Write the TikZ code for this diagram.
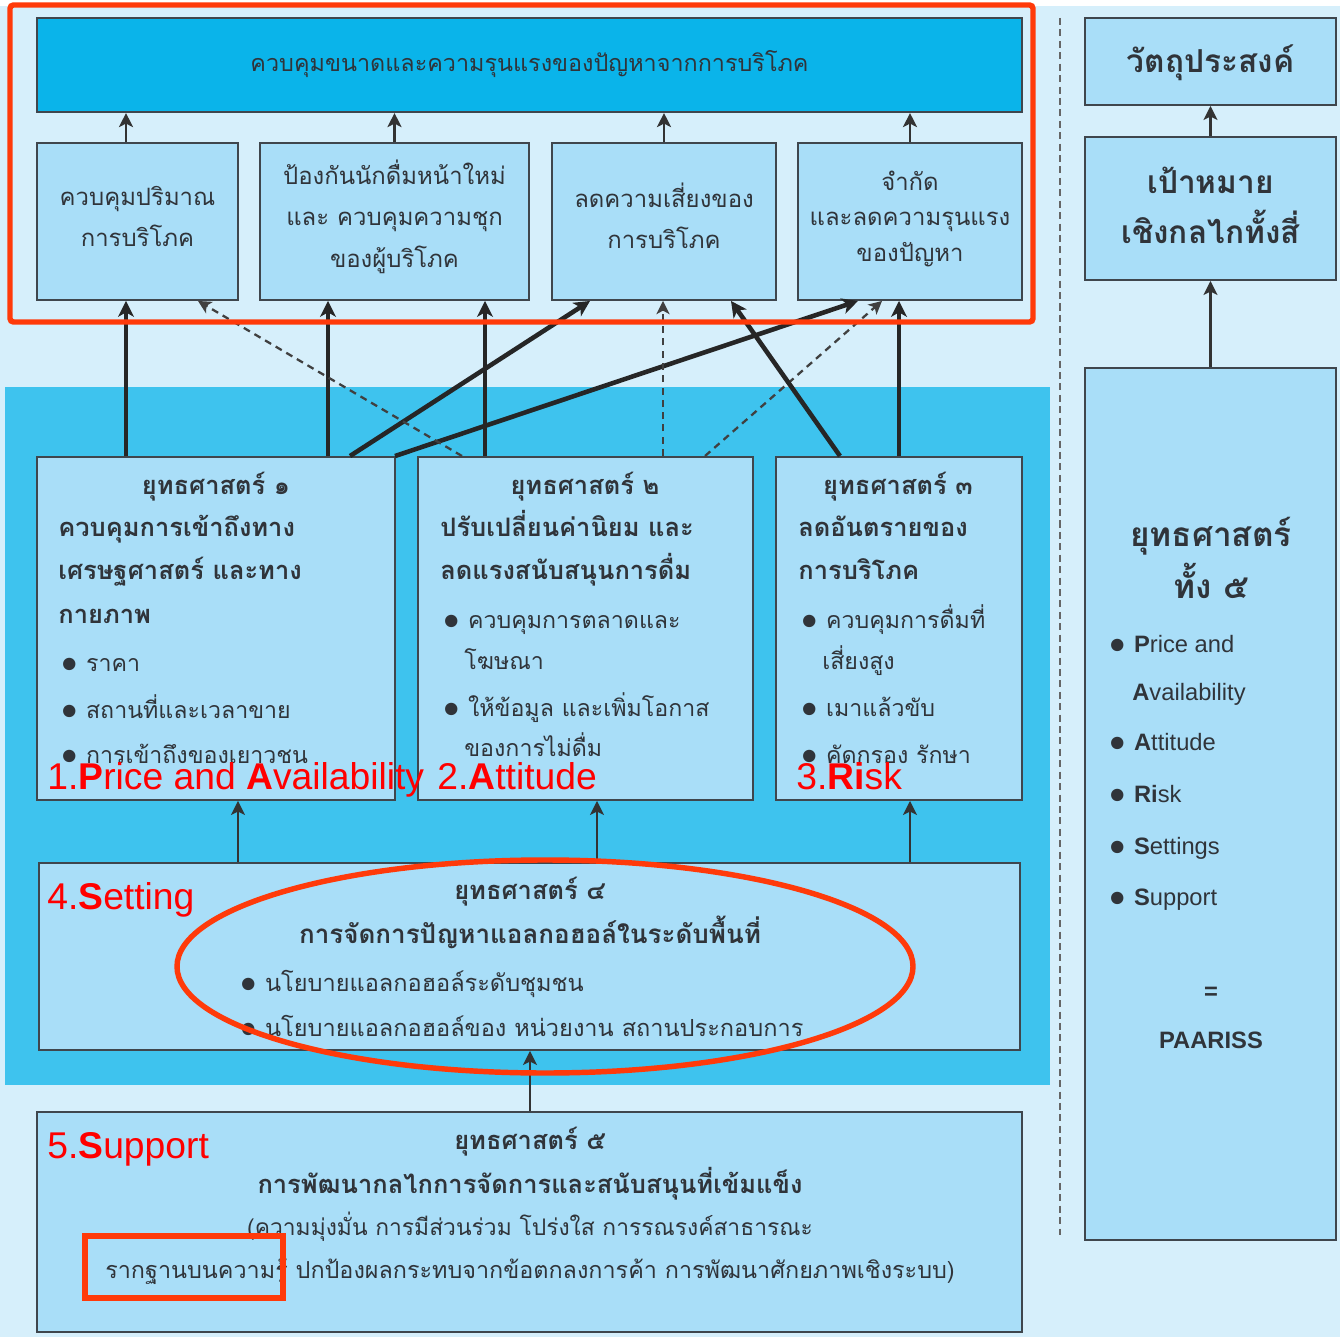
\documentclass[tikz,border=0pt]{standalone}
\usepackage{fontspec}
\setmainfont{Liberation Sans}
\newfontfamily\thai[Script=Thai]{Loma}
\newfontfamily\dejavu{DejaVu Sans}
\usetikzlibrary{arrows.meta,positioning,fit,calc,backgrounds}

\definecolor{pagebg}{HTML}{D6EFFB}
\definecolor{midbg}{HTML}{3EC3EE}
\definecolor{bannerfill}{HTML}{0AB4EA}
\definecolor{boxfill}{HTML}{A9DEF8}
\definecolor{boxline}{HTML}{3F464D}
\definecolor{inktext}{HTML}{30343A}
\definecolor{markred}{HTML}{FF3A0A}

\newcommand{\blt}{\raisebox{-3.5pt}{\dejavu\bfseries\fontsize{20}{20}\selectfont •}\hspace{3pt}}

\begin{document}
\begin{tikzpicture}[x=0.02cm, y=-0.02cm,
    banner/.style={draw=boxline, line width=1.2pt, fill=bannerfill, inner sep=0pt},
    goalbox/.style={draw=boxline, line width=1.1pt, fill=boxfill, inner sep=0pt},
    stratbox/.style={draw=boxline, line width=1.1pt, fill=boxfill, inner sep=0pt},
    bannertext/.style={inner sep=0pt, text=inktext, font=\thai\fontsize{13.3}{18}\selectfont},
    goaltext/.style={align=center, inner sep=0pt, text=inktext, font=\thai\fontsize{13.6}{23.5}\selectfont},
    sidetext/.style={align=center, inner sep=0pt, text=inktext, font=\thai\bfseries\fontsize{18}{28.5}\selectfont},
    stitle/.style={inner sep=0pt, text height=11pt, text depth=4pt, text=inktext, font=\thai\bfseries\fontsize{14.5}{16}\selectfont},
    shead/.style={stitle, anchor=west},
    sitem/.style={inner sep=0pt, text height=11pt, text depth=4pt, anchor=west, text=inktext, font=\thai\fontsize{13.2}{16}\selectfont},
    note/.style={inner sep=0pt, text height=10pt, text depth=4pt, text=inktext, font=\thai\fontsize{13.3}{15}\selectfont},
    eng/.style={inner sep=0pt, anchor=west, text=inktext, font=\fontsize{13.5}{15}\selectfont},
    edge/.style={-{Stealth[length=9pt,width=9pt,inset=2.5pt]}, line width=2.6pt, draw=black!85},
    hint/.style={-{Stealth[length=7.5pt,width=7.5pt,inset=2pt]}, line width=1.3pt, dash pattern=on 4pt off 3pt, draw=black!75},
    feed/.style={-{Stealth[length=8pt,width=8pt,inset=2pt]}, line width=1.2pt, draw=black!80},
    redmark/.style={draw=markred, line width=3.1pt},
    redlabel/.style={inner sep=0pt, anchor=base west, text=red, font=\fontsize{21.2}{24}\selectfont},
    sepline/.style={draw=black!60, line width=1.2pt, dash pattern=on 4pt off 2.5pt},
]
\useasboundingbox (0,0) rectangle (1342,1337);

% Backgrounds
\fill[white] (0,0) rectangle (1342,1337);
\fill[pagebg] (0,6) rectangle (1340,1337);
\fill[midbg] (5,387) rectangle (1050,1085);
\draw[sepline] (1060,18) -- (1060,1235);

% Aim and the four goals
\node[banner, fit={(37,18) (1022,112)}] (aim) {};
\node[goalbox, fit={(37,143) (238,300)}] (amount) {};
\node[goalbox, fit={(260,143) (529,300)}] (newdrinkers) {};
\node[goalbox, fit={(552,143) (776,300)}] (riskuse) {};
\node[goalbox, fit={(798,143) (1022,300)}] (severity) {};
\node[bannertext] (t-aim) at ([yshift=0.5pt]aim.center) {ควบคุมขนาดและความรุนแรงของปัญหาจากการบริโภค};
\node[goaltext] (t-amount) at ([yshift=2.8pt]amount.center) {ควบคุมปริมาณ\\การบริโภค};
\node[goaltext] (t-newdrinkers) at ([yshift=2.8pt]newdrinkers.center) {ป้องกันนักดื่มหน้าใหม่\\และ ควบคุมความชุก\\ของผู้บริโภค};
\node[goaltext] (t-riskuse) at ([yshift=3.3pt]riskuse.center) {ลดความเสี่ยงของ\\การบริโภค};
\node[goaltext, font=\thai\fontsize{13.6}{20}\selectfont] (t-severity) at ([yshift=1.5pt]severity.center) {จำกัด\\และลดความรุนแรง\\ของปัญหา};

% Strategy boxes
\node[stratbox, fit={(37,457) (395,800)}] (strat1) {};
\node[stratbox, fit={(418,457) (753,800)}] (strat2) {};
\node[stratbox, fit={(776,457) (1022,800)}] (strat3) {};
\node[stratbox, fit={(39,863) (1020,1050)}] (strat4) {};
\node[stratbox, fit={(37,1112) (1022,1332)}] (strat5) {};

% Right column
\node[goalbox, fit={(1085,18) (1336,105)}] (objective) {};
\node[goalbox, fit={(1085,137) (1336,280)}] (mechanism) {};
\node[stratbox, fit={(1085,368) (1336,1240)}] (allfive) {};
\node[sidetext] (t-objective) at ([yshift=-0.5pt]objective.center) {วัตถุประสงค์};
\node[sidetext] (t-mechanism) at ([yshift=1.7pt]mechanism.center) {เป้าหมาย\\เชิงกลไกทั้งสี่};

% Strategy 1
\node[stitle] (s1title) at (216,488) {ยุทธศาสตร์ ๑};
\node[shead] (s1a) at (58,530) {ควบคุมการเข้าถึงทาง};
\node[shead] (s1b) at (58,573) {เศรษฐศาสตร์ และทาง};
\node[shead] (s1c) at (58,617) {กายภาพ};
\node[sitem] (s1d) at (58,665) {\blt ราคา};
\node[sitem] (s1e) at (58,712) {\blt สถานที่และเวลาขาย};
\node[sitem] (s1f) at (58,757) {\blt การเข้าถึงของเยาวชน};

% Strategy 2
\node[stitle] (s2title) at (585,488) {ยุทธศาสตร์ ๒};
\node[shead] (s2a) at (440,530) {ปรับเปลี่ยนค่านิยม และ};
\node[shead] (s2b) at (440,573) {ลดแรงสนับสนุนการดื่ม};
\node[sitem] (s2c) at (440,622) {\blt ควบคุมการตลาดและ};
\node[sitem] (s2d) at (464,663) {โฆษณา};
\node[sitem] (s2e) at (440,710) {\blt ให้ข้อมูล และเพิ่มโอกาส};
\node[sitem] (s2f) at (464,750) {ของการไม่ดื่ม};

% Strategy 3
\node[stitle] (s3title) at (898,488) {ยุทธศาสตร์ ๓};
\node[shead] (s3a) at (798,530) {ลดอันตรายของ};
\node[shead] (s3b) at (798,573) {การบริโภค};
\node[sitem] (s3c) at (798,622) {\blt ควบคุมการดื่มที่};
\node[sitem] (s3d) at (822,663) {เสี่ยงสูง};
\node[sitem] (s3e) at (798,710) {\blt เมาแล้วขับ};
\node[sitem] (s3f) at (798,757) {\blt คัดกรอง รักษา};

% Strategy 4
\node[stitle] (s4title) at (530,893) {ยุทธศาสตร์ ๔};
\node[stitle, font=\thai\bfseries\fontsize{14.8}{16}\selectfont] (s4a) at (530,937) {การจัดการปัญหาแอลกอฮอล์ในระดับพื้นที่};
\node[sitem, font=\thai\fontsize{13.4}{16}\selectfont] (s4b) at (237,985) {\blt นโยบายแอลกอฮอล์ระดับชุมชน};
\node[sitem, font=\thai\fontsize{13.4}{16}\selectfont] (s4c) at (237,1030) {\blt นโยบายแอลกอฮอล์ของ หน่วยงาน สถานประกอบการ};

% Strategy 5
\node[stitle] (s5title) at (530,1143) {ยุทธศาสตร์ ๕};
\node[stitle] (s5a) at (530,1187) {การพัฒนากลไกการจัดการและสนับสนุนที่เข้มแข็ง};
\node[note, font=\thai\fontsize{13}{15}\selectfont] (s5b) at (530,1230) {(ความมุ่งมั่น การมีส่วนร่วม โปร่งใส การรณรงค์สาธารณะ};
\node[note] (s5c) at (530,1273) {รากฐานบนความรู้ ปกป้องผลกระทบจากข้อตกลงการค้า การพัฒนาศักยภาพเชิงระบบ)};

% All five strategies
\node[stitle, font=\thai\bfseries\fontsize{19}{22}\selectfont] (f1) at (1211,540) {ยุทธศาสตร์};
\node[stitle, font=\thai\bfseries\fontsize{19}{22}\selectfont] (f2) at (1211,592) {ทั้ง ๕};
\node[eng] (f3) at (1106,647) {\blt\textbf{P}rice and};
\node[eng] (f4) at (1132,694) {\textbf{A}vailability};
\node[eng] (f5) at (1106,745) {\blt\textbf{A}ttitude};
\node[eng] (f6) at (1106,797) {\blt\textbf{Ri}sk};
\node[eng] (f7) at (1106,849) {\blt\textbf{S}ettings};
\node[eng] (f8) at (1106,900) {\blt\textbf{S}upport};
\node[eng, anchor=center] (f9) at (1211,993) {\textbf{=}};
\node[eng, anchor=center] (f10) at (1211,1040) {\textbf{PAARISS}};

% Goals to aim
\draw[feed] (amount.north -| 126,0) -- (aim.south -| 126,0);
\draw[feed] (newdrinkers.north) -- (aim.south -| newdrinkers.north);
\draw[feed] (riskuse.north) -- (aim.south -| riskuse.north);
\draw[feed] (severity.north) -- (aim.south -| severity.north);
\draw[feed] (mechanism.north) -- (objective.south);
\draw[feed] (allfive.north) -- (mechanism.south);

% Strategies to goals
\draw[edge] (strat1.north -| 126,0) -- (amount.south -| 126,0);
\draw[edge] (strat1.north -| 328,0) -- (newdrinkers.south -| 328,0);
\draw[edge] (strat1.north -| 350,0) -- (riskuse.south -| 590,0);
\draw[edge] (strat1.north -| 395,0) -- (severity.south -| 858,0);
\draw[edge] (strat2.north -| 485,0) -- (newdrinkers.south -| 485,0);
\draw[hint] (strat2.north -| 462,0) -- (amount.south -| 198,0);
\draw[hint] (strat2.north -| 663,0) -- (riskuse.south -| 663,0);
\draw[hint] (strat2.north -| 705,0) -- (severity.south -| 882,0);
\draw[edge] (strat3.north -| 840,0) -- (riskuse.south -| 731,0);
\draw[edge] (strat3.north) -- (severity.south -| strat3.north);

% Lower strategies feed upward
\draw[feed] (strat4.north -| 238,0) -- (strat1.south -| 238,0);
\draw[feed] (strat4.north -| 597,0) -- (strat2.south -| 597,0);
\draw[feed] (strat4.north -| 910,0) -- (strat3.south -| 910,0);
\draw[feed] (strat5.north -| 530,0) -- (strat4.south -| 530,0);

% Red marks
\draw[redmark, rounded corners=2pt] (10,5) rectangle (1033,322);
\draw[redmark] (545,966.5) ellipse [x radius=368, y radius=106.5];
\draw[redmark] (85,1236) rectangle (283,1298);

\node[redlabel] (lbl1) at (47,789) {1.\textbf{P}rice and \textbf{A}vailability};
\node[redlabel] (lbl2) at (437,789) {2.\textbf{A}ttitude};
\node[redlabel] (lbl3) at (796,789) {3.\textbf{Ri}sk};
\node[redlabel] (lbl4) at (47,909) {4.\textbf{S}etting};
\node[redlabel] (lbl5) at (47,1158) {5.\textbf{S}upport};

\end{tikzpicture}
\end{document}
